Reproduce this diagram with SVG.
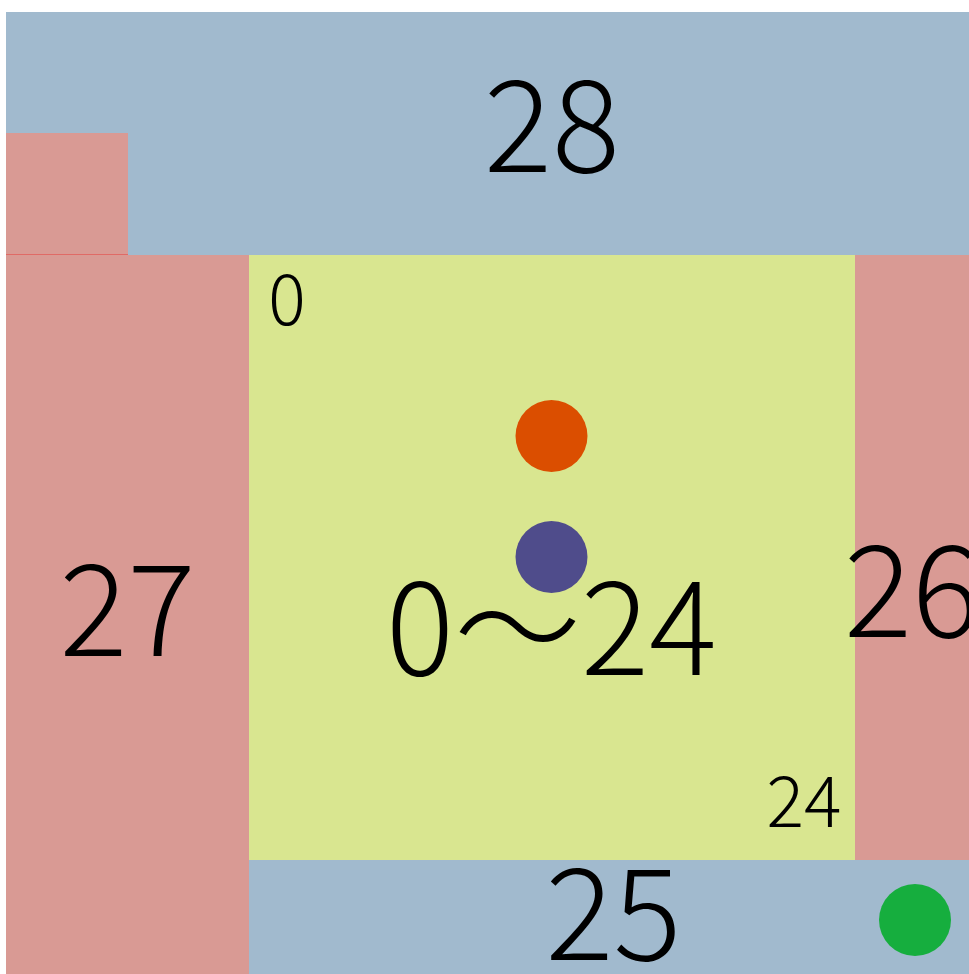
<svg xmlns="http://www.w3.org/2000/svg" width="969" height="974" viewBox="0 0 969 974">
<style>
.blue{fill:#A1BACE}
.pink{fill:#D99A94}
.yellow{fill:#D9E690}
.t{font-family:"Noto Sans CJK JP","Noto Sans",sans-serif;font-weight:300;fill:#000;text-anchor:middle}
.big{font-size:127px}
.small{font-size:70px}
</style>
<rect width="969" height="974" fill="#FFFFFF"/>
<g id="node28">
<rect class="blue" x="6" y="12" width="963" height="243"/>
<text class="t big" x="552" y="172">28</text>
</g>
<g id="nodePinkSmall">
<rect class="pink" x="6" y="133" width="122" height="122"/>
<line x1="6" y1="254.5" x2="128" y2="254.5" stroke="#E06A66" stroke-width="1"/>
</g>
<g id="node27">
<rect class="pink" x="6" y="255" width="243" height="719"/>
<text class="t big" x="127.5" y="656">27</text>
</g>
<g id="nodeCenter">
<rect class="yellow" x="249" y="255" width="606" height="605"/>
<text class="t small" x="287" y="325">0</text>
<text class="t small" x="804" y="827">24</text>
<text class="t big" x="551.5" y="675">0～24</text>
</g>
<g id="node26">
<rect class="pink" x="855" y="255" width="114" height="605"/>
<text class="t big" x="844" y="637" style="text-anchor:start">26</text>
</g>
<g id="node25">
<rect class="blue" x="249" y="860" width="720" height="114"/>
<text class="t big" x="613.5" y="960">25</text>
</g>
<g id="connectors"></g>
<g id="markers">
<circle cx="551.5" cy="436" r="36" fill="#DB4E00"/>
<circle cx="551.5" cy="557" r="36" fill="#4F4C8B"/>
<circle cx="915" cy="920" r="36" fill="#16AE3E"/>
</g>
</svg>
